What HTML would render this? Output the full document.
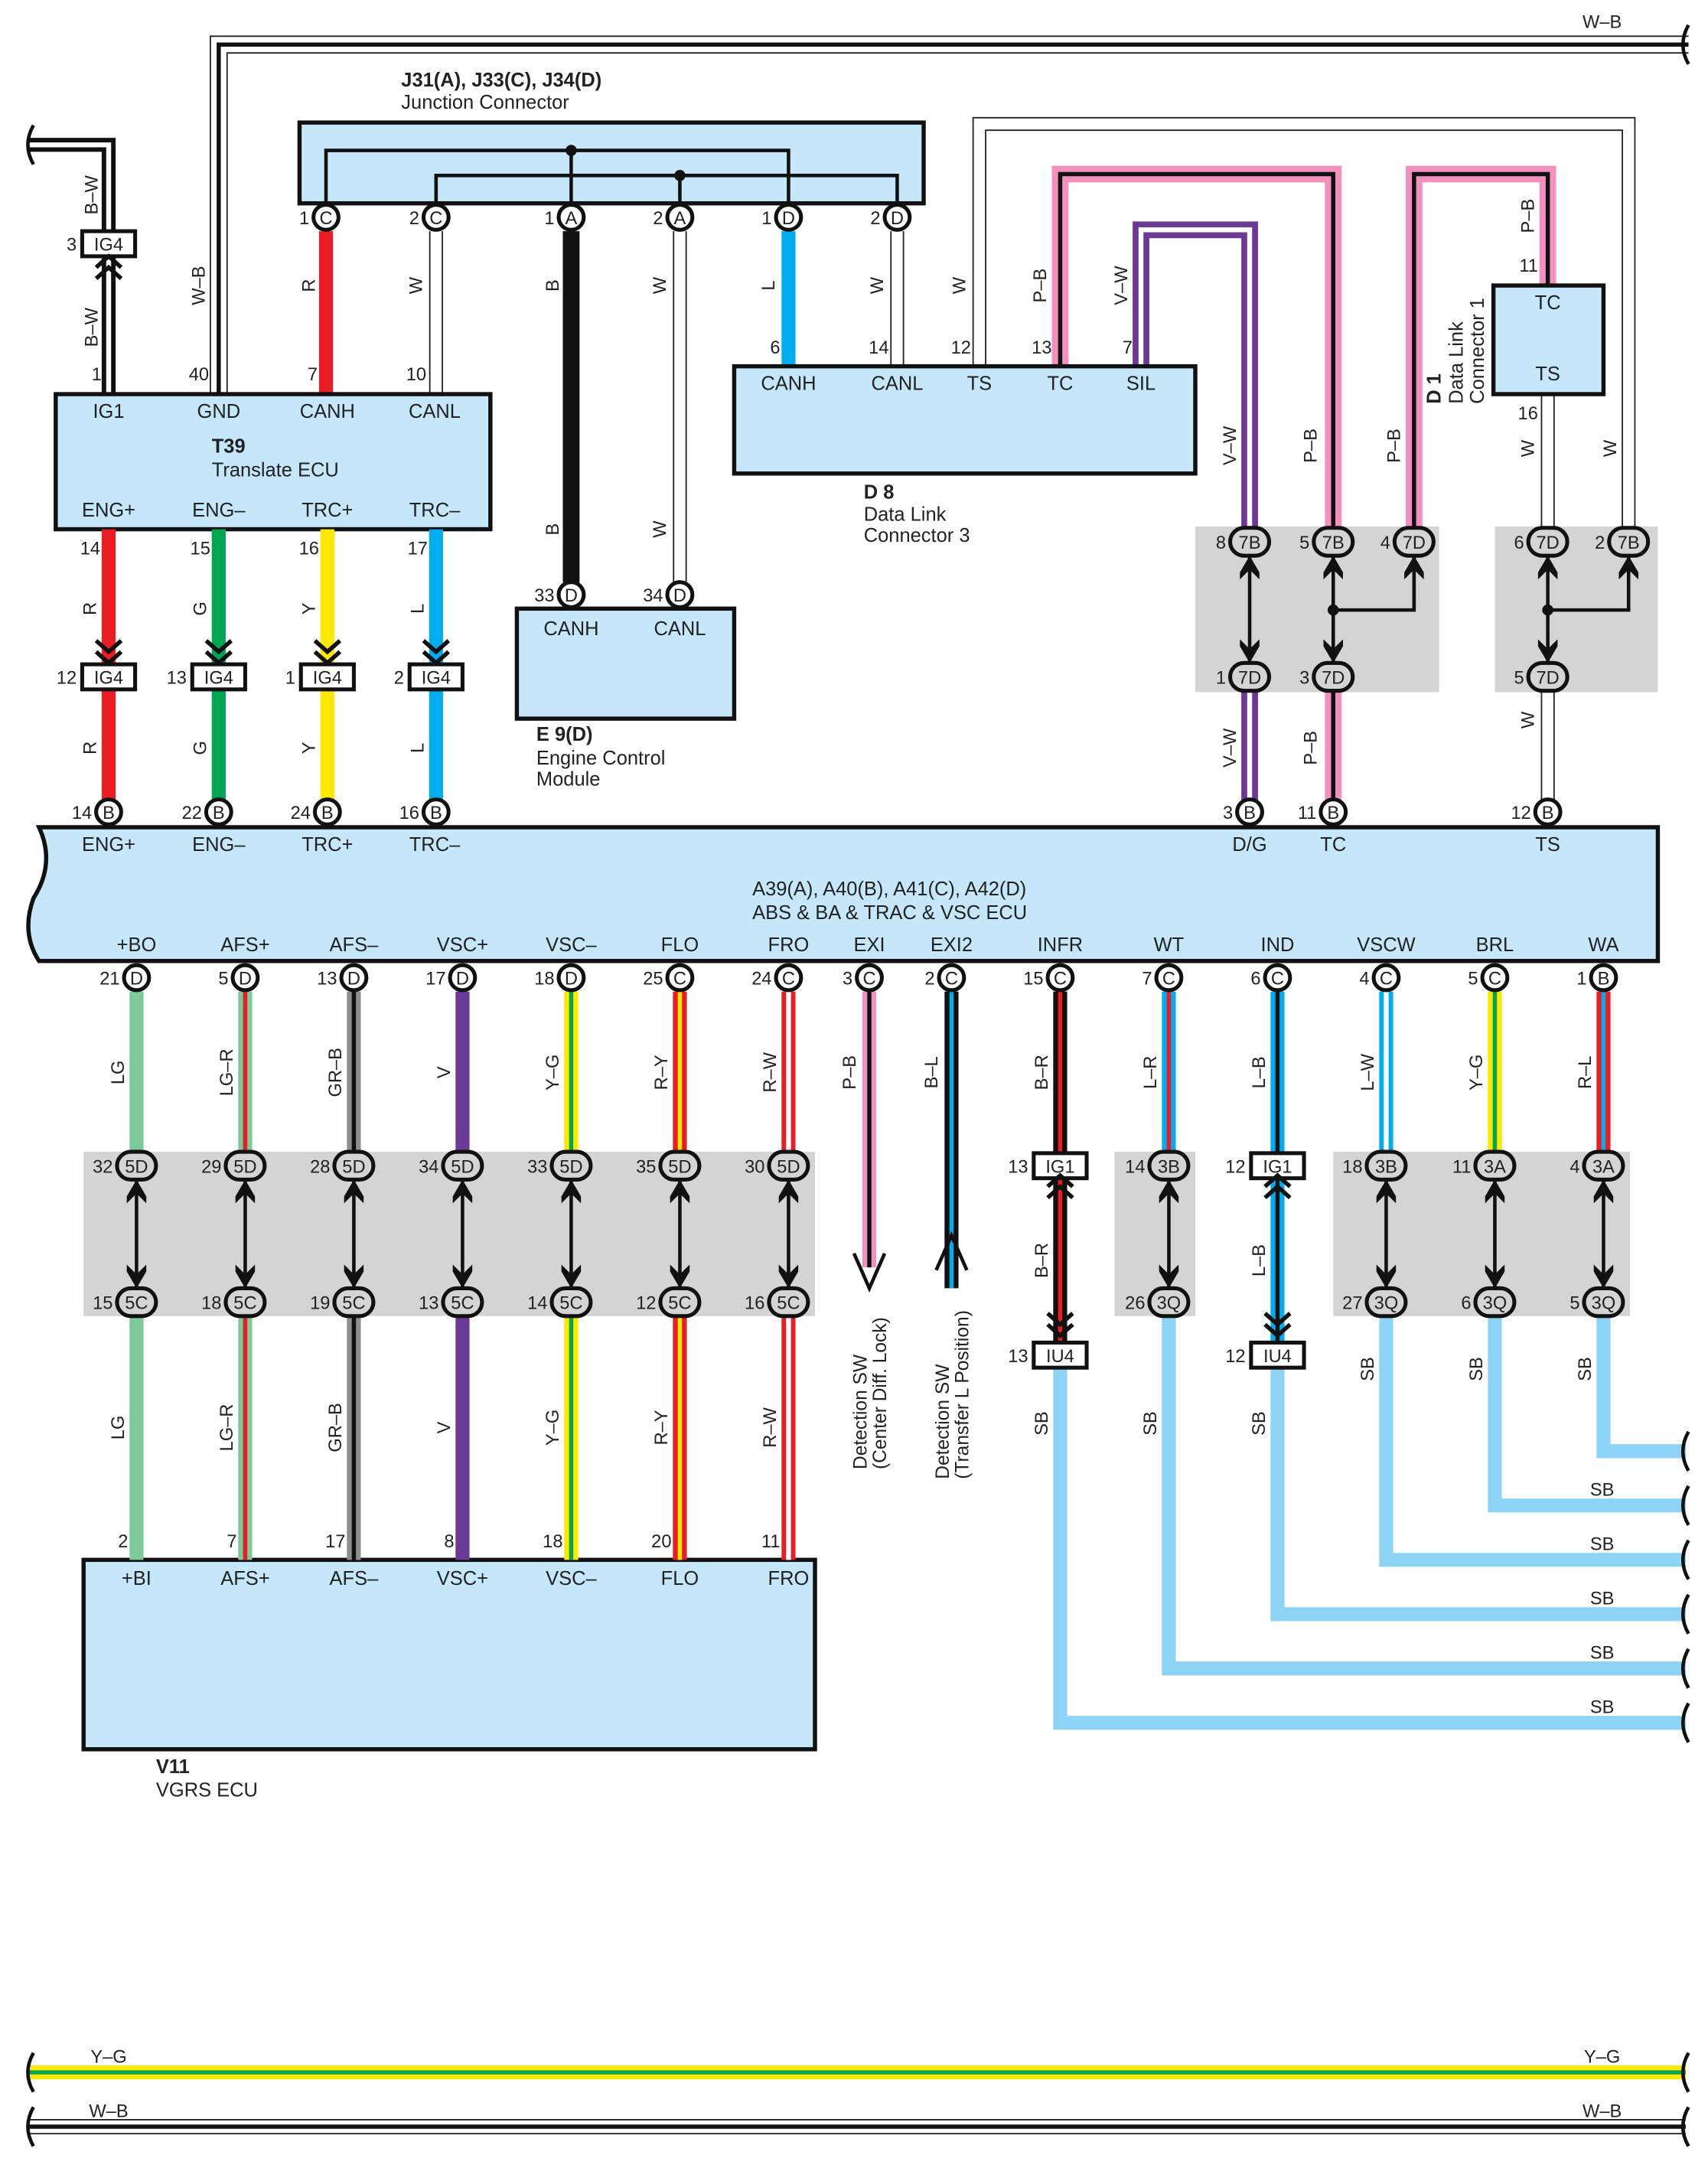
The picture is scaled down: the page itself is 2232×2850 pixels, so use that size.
<!DOCTYPE html>
<html><head><meta charset="utf-8"><style>
html,body{margin:0;padding:0;background:#fff;}
svg{display:block;}
text{font-family:"Liberation Sans",sans-serif;fill:#222;}
</style></head><body>
<svg id="s" xmlns="http://www.w3.org/2000/svg" width="2232" height="2850" viewBox="0 0 1226 1566" preserveAspectRatio="none"></svg>
<script>
const C={R:'#ec1c24',G:'#00a651',Y:'#ffe800',L:'#00aeef',B:'#111',W:'#fff',V:'#6b3a96',P:'#f291bd',LG:'#7cc99a',GR:'#8e8e8e',SB:'#8dd3f5'};
let o='';
function P(pts){return 'M'+pts.map(p=>p.join(',')).join(' L');}
function wire(pts,c,s,w){w=w||10;const d=P(pts);
 if(c==='W'){o+=`<path d="${d}" fill="none" stroke="#222" stroke-width="${w}"/><path d="${d}" fill="none" stroke="#fff" stroke-width="${w-2}"/>`;}
 else o+=`<path d="${d}" fill="none" stroke="${C[c]}" stroke-width="${w}"/>`;
 if(s)o+=`<path d="${d}" fill="none" stroke="${C[s]}" stroke-width="${s==='W'?3.5:3}"/>`;}
function T(x,y,t,sz,a,b,rot){sz=sz||14;a=a||'middle';let tr=rot?` transform="rotate(-90 ${x} ${y})"`:'';
 o+=`<text x="${x}" y="${y}" font-size="${sz}" text-anchor="${a}"${b?' font-weight="bold"':''}${tr}>${t}</text>`;}
function RT(x,y,t){T(x,y,t,13,'middle',0,1);}
function rect(x,y,w,h,f,sw){o+=`<rect x="${x}" y="${y}" width="${w}" height="${h}" fill="${f}" stroke="${sw?'#111':'none'}" stroke-width="${sw||0}"/>`;}
function pin(x,y,l,n){o+=`<circle cx="${x}" cy="${y}" r="9" fill="#fff" stroke="#111" stroke-width="2.8"/>`;T(x,y+5,l,13);T(x-12,y+5,n,13,'end');}
function oval(x,y,l,n,f){o+=`<rect x="${x-14}" y="${y-10}" width="28" height="20" rx="10" fill="${f||'#d4d4d4'}" stroke="#111" stroke-width="2.8"/>`;T(x,y+5,l,13);T(x-17,y+5,n,13,'end');}
function box(x,y,l,n){rect(x-19,y-9,38,18,'#fff',2.8);T(x,y+5,l,13);T(x-23,y+5,n,13,'end');}
function chev(x,y,dir){for(let k=0;k<2;k++){const yy=y+k*8*dir;o+=`<path d="M${x-9},${yy} L${x},${yy+8*dir} L${x+9},${yy}" fill="none" stroke="#111" stroke-width="3"/>`;}}
function ah(x,y,dir){o+=`<path d="M${x},${y} L${x-7},${y-12*dir} L${x-7},${y-17*dir} L${x},${y-10*dir} L${x+7},${y-17*dir} L${x+7},${y-12*dir}Z" fill="#111"/>`;}
function dbl(x,y1,y2){o+=`<line x1="${x}" y1="${y1+10}" x2="${x}" y2="${y2-10}" stroke="#111" stroke-width="2.5"/>`;ah(x,y1+10,-1);ah(x,y2-10,1);}
function dot(x,y){o+=`<circle cx="${x}" cy="${y}" r="4" fill="#111"/>`;}
function wave(x,y){o+=`<path d="M${x},${y-14} q-8,14 0,28" fill="none" stroke="#111" stroke-width="2.5"/>`;}

// top W-B
wire([[157,283],[157,32],[1212,32]],'W','B',13);
T(1150,20,'W–B',13);wave(1212,32);
// left B-W
wire([[20,104],[78,104],[78,283]],'B','W',10);
wave(24,104);
box(78,175,'IG4','3');chev(78,200,-1);
RT(70,140,'B–W');RT(70,235,'B–W');RT(147,205,'W–B');
// junction connector
rect(215,88,448,58,'#c5e7f9',3);
T(288,62,'J31(A), J33(C), J34(D)',14,'start',1);T(288,78,'Junction Connector',14,'start');
o+=`<path d="M234,146 L234,108 L566,108 L566,146 M410,108 L410,146 M313,146 L313,126 L644,126 L644,146 M488,126 L488,146" fill="none" stroke="#111" stroke-width="2.5"/>`;dot(410,108);dot(488,126);
wire([[234,166],[234,283]],'R');wire([[313,166],[313,283]],'W');
wire([[410,166],[410,418]],'B',0,12);wire([[488,166],[488,418]],'W');
wire([[566,166],[566,263]],'L');wire([[644,166],[644,263]],'W');
pin(234,156,'C','1');pin(313,156,'C','2');pin(410,156,'A','1');pin(488,156,'A','2');pin(566,156,'D','1');pin(644,156,'D','2');
RT(226,205,'R');RT(303,205,'W');RT(401,205,'B');RT(478,205,'W');RT(556,205,'L');RT(634,205,'W');RT(401,380,'B');RT(478,380,'W');
// T39
rect(40,283,312,97,'#c5e7f9',3);
[['IG1',78],['GND',157],['CANH',235],['CANL',312]].forEach(a=>T(a[1],300,a[0]));
[['ENG+',78],['ENG–',157],['TRC+',235],['TRC–',312]].forEach(a=>T(a[1],371,a[0]));
T(152,325,'T39',14,'start',1);T(152,342,'Translate ECU',14,'start');
T(73,273,'1',13,'end');T(150,273,'40',13,'end');T(228,273,'7',13,'end');T(306,273,'10',13,'end');
// T39 down
[[78,'R','14','12','14'],[157,'G','15','13','22'],[235,'Y','16','1','24'],[313,'L','17','2','16']].forEach(a=>{
 wire([[a[0],380],[a[0],583]],a[1]);T(a[0]-6,398,a[2],13,'end');chev(a[0],460,1);box(a[0],486,'IG4',a[3]);pin(a[0],583,'B',a[4]);
 RT(a[0]-9,437,a[1]);RT(a[0]-9,537,a[1]);});
// E9
rect(371,437,156,79,'#c5e7f9',3);T(410,456,'CANH');T(488,456,'CANL');pin(410,427,'D','33');pin(488,427,'D','34');
T(385,532,'E 9(D)',14,'start',1);T(385,549,'Engine Control',14,'start');T(385,564,'Module',14,'start');
// D8 and wires above
wire([[703,263],[703,89],[1169,89],[1169,379]],'W');
wire([[761,263],[761,125],[957,125],[957,379]],'P','B',12);
wire([[819,263],[819,165],[897,165],[897,379]],'V','W',12);
wire([[1015,379],[1015,125],[1111,125],[1111,205]],'P','B',12);
wire([[1111,283],[1111,379]],'W');
rect(527,263,331,77,'#c5e7f9',3);
[['CANH',566],['CANL',644],['TS',703],['TC',761],['SIL',819]].forEach(a=>T(a[1],280,a[0]));
[['6',560],['14',638],['12',697],['13',755],['7',813]].forEach(a=>T(a[1],254,a[0],13,'end'));
RT(693,205,'W');RT(751,205,'P–B');RT(809,205,'V–W');
T(620,358,'D 8',14,'start',1);T(620,374,'Data Link',14,'start');T(620,389,'Connector 3',14,'start');
// D1
rect(1072,205,79,78,'#c5e7f9',3);T(1111,222,'TC');T(1111,273,'TS');
T(1104,195,'11',13,'end');T(1104,301,'16',13,'end');RT(1101,155,'P–B');RT(1101,322,'W');RT(1160,322,'W');
o+=`<text font-size="14" transform="translate(1034,290) rotate(-90)"><tspan x="0" y="0" font-weight="bold">D 1</tspan><tspan x="0" y="16">Data Link</tspan><tspan x="0" y="31">Connector 1</tspan></text>`;
RT(887,320,'V–W');RT(945,320,'P–B');RT(1005,320,'P–B');
// gray boxes top
rect(858,378,175,119,'#d4d4d4');rect(1073,378,117,119,'#d4d4d4');
dbl(897,389,486);
o+=`<line x1="957" y1="399" x2="957" y2="476" stroke="#111" stroke-width="2.5"/><path d="M957,438 L1015,438 L1015,399" fill="none" stroke="#111" stroke-width="2.5"/>`;ah(957,399,-1);ah(957,476,1);ah(1015,399,-1);dot(957,438);
o+=`<line x1="1111" y1="399" x2="1111" y2="476" stroke="#111" stroke-width="2.5"/><path d="M1111,438 L1169,438 L1169,399" fill="none" stroke="#111" stroke-width="2.5"/>`;ah(1111,399,-1);ah(1111,476,1);ah(1169,399,-1);dot(1111,438);
oval(897,389,'7B','8');oval(957,389,'7B','5');oval(1015,389,'7D','4');oval(1111,389,'7D','6');oval(1169,389,'7B','2');
wire([[897,496],[897,583]],'V','W',12);wire([[957,496],[957,583]],'P','B',12);wire([[1111,496],[1111,583]],'W');
oval(897,486,'7D','1');oval(957,486,'7D','3');oval(1111,486,'7D','5');
RT(887,537,'V–W');RT(945,537,'P–B');RT(1101,517,'W');
// ABS ECU
o+=`<path d="M28,594 L1190,594 L1190,690 L28,690 Q15,670 24,645 Q40,620 28,594Z" fill="#c5e7f9" stroke="#111" stroke-width="3"/>`;
pin(897,583,'B','3');pin(957,583,'B','11');pin(1111,583,'B','12');
[['ENG+',78],['ENG–',157],['TRC+',235],['TRC–',312],['D/G',897],['TC',957],['TS',1111]].forEach(a=>T(a[1],611,a[0]));
T(540,643,'A39(A), A40(B), A41(C), A42(D)',14,'start');T(540,660,'ABS &amp; BA &amp; TRAC &amp; VSC ECU',14,'start');
const bl=[['+BO',98,'D','21'],['AFS+',176,'D','5'],['AFS–',254,'D','13'],['VSC+',332,'D','17'],['VSC–',410,'D','18'],['FLO',488,'C','25'],['FRO',566,'C','24'],['EXI',624,'C','3'],['EXI2',683,'C','2'],['INFR',761,'C','15'],['WT',839,'C','7'],['IND',917,'C','6'],['VSCW',995,'C','4'],['BRL',1073,'C','5'],['WA',1151,'B','1']];
bl.forEach(a=>T(a[1],683,a[0]));
// gray boxes lower
rect(60,827,525,118,'#d4d4d4');rect(800,827,58,118,'#d4d4d4');rect(957,827,213,118,'#d4d4d4');
const lg=[[98,'LG',0,'LG','32','15','2','+BI'],[176,'LG','R','LG–R','29','18','7','AFS+'],[254,'GR','B','GR–B','28','19','17','AFS–'],[332,'V',0,'V','34','13','8','VSC+'],[410,'Y','G','Y–G','33','14','18','VSC–'],[488,'R','Y','R–Y','35','12','20','FLO'],[566,'R','W','R–W','30','16','11','FRO']];
rect(60,1120,525,136,'#c5e7f9',3);
lg.forEach(a=>{wire([[a[0],712],[a[0],827]],a[1],a[2]);wire([[a[0],945],[a[0],1120]],a[1],a[2]);dbl(a[0],837,935);
 oval(a[0],837,'5D',a[4]);oval(a[0],935,'5C',a[5]);RT(a[0]-9,770,a[3]);RT(a[0]-9,1025,a[3]);T(a[0]-6,1111,a[6],13,'end');T(a[0],1138,a[7]);});
T(112,1273,'V11',14,'start',1);T(112,1290,'VGRS ECU',14,'start');
// EXI / EXI2
wire([[624,712],[624,910]],'P','B');o+=`<path d="M613,900 L624,925 L635,900" fill="none" stroke="#111" stroke-width="2.5"/>`;
wire([[683,712],[683,925]],'B','L');o+=`<path d="M672,912 L683,887 L694,912" fill="none" stroke="#111" stroke-width="2.5"/>`;
RT(614,770,'P–B');RT(673,770,'B–L');
o+=`<text font-size="13.5" transform="translate(622,1055) rotate(-90)"><tspan x="0" y="0">Detection SW</tspan><tspan x="0" y="14">(Center Diff. Lock)</tspan></text>`;
o+=`<text font-size="13.5" transform="translate(681,1062) rotate(-90)"><tspan x="0" y="0">Detection SW</tspan><tspan x="0" y="14">(Transfer L Position)</tspan></text>`;
// SB wires
const sb=[[761,1237],[839,1198],[917,1159],[995,1120],[1073,1081],[1151,1042]];
sb.forEach((a,i)=>{const y0=(a[0]==761||a[0]==917)?983:945;o+=`<path d="M${a[0]},${y0} L${a[0]},${a[1]} L1210,${a[1]}" fill="none" stroke="${C.SB}" stroke-width="10"/>`;wave(1212,a[1]);
 if(i<5)T(1150,a[1]-7,'SB',13);RT(a[0]-9,a[0]==761||a[0]==839||a[0]==917?1022:983,'SB');});
// right group wires
wire([[761,712],[761,827]],'B','R');wire([[761,847],[761,963]],'B','R');
box(761,837,'IG1','13');chev(761,860,-1);chev(761,943,1);box(761,973,'IU4','13');
RT(752,770,'B–R');RT(752,905,'B–R');
wire([[839,712],[839,827]],'L','R');dbl(839,837,935);oval(839,837,'3B','14');oval(839,935,'3Q','26');RT(830,770,'L–R');
wire([[917,712],[917,827]],'L','B');wire([[917,847],[917,963]],'L','B');
box(917,837,'IG1','12');chev(917,860,-1);chev(917,943,1);box(917,973,'IU4','12');
RT(908,770,'L–B');RT(908,905,'L–B');
[[995,'L','W','L–W','18','3B','27'],[1073,'Y','G','Y–G','11','3A','6'],[1151,'R','L','R–L','4','3A','5']].forEach(a=>{
 wire([[a[0],712],[a[0],827]],a[1],a[2]);dbl(a[0],837,935);oval(a[0],837,a[5],a[4]);oval(a[0],935,'3Q',a[6]);RT(a[0]-9,770,a[3]);});
bl.forEach(a=>pin(a[1],702,a[2],a[3]));
// bottom wires
wire([[20,1488],[1210,1488]],'Y','G',10);
wire([[20,1527],[1210,1527]],'W','B',11);
wave(24,1488);wave(24,1527);wave(1212,1488);wave(1212,1527);
T(78,1481,'Y–G',13);T(1150,1481,'Y–G',13);T(78,1520,'W–B',13);T(1150,1520,'W–B',13);
document.getElementById('s').innerHTML=o;
</script>
</body></html>
